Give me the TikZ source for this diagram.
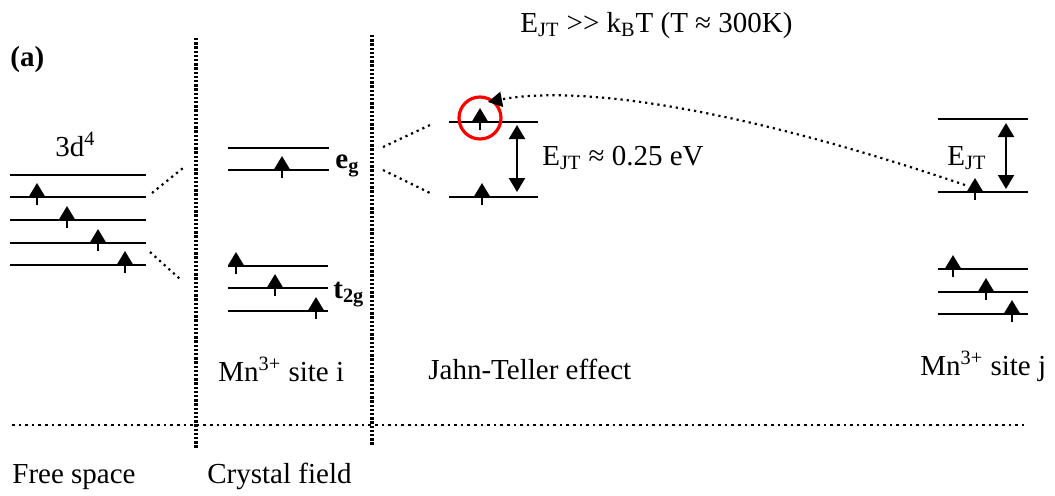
\documentclass[tikz,border=0pt]{standalone}
\usepackage{fontspec}
\setmainfont{Liberation Serif}
\usetikzlibrary{arrows.meta}

\begin{document}
\begin{tikzpicture}[
  x=0.5pt,y=-0.5pt,
  font=\fontsize{14.5}{17}\selectfont,
  lbl/.style={inner sep=0pt,anchor=base west},
  level/.style={line width=1.4pt},
  spin/.style={line width=1.1pt,-{Triangle[width=7.5pt,length=6.5pt]}},
  gap/.style={line width=1.1pt,{Triangle[width=8pt,length=7pt]}-{Triangle[width=8pt,length=7pt]}},
  split/.style={line width=1.1pt,dash pattern=on 1.1pt off 2pt},
  wall/.style={line width=1.7pt,dash pattern=on 1.2pt off 0.9pt},
  hop/.style={line width=1.1pt,dash pattern=on 1.1pt off 2pt,-{Triangle[width=7.5pt,length=7pt]}}
]
\useasboundingbox (0,0) rectangle (1055,495);

% columns and baseline
\draw[wall] (196,38) -- (196,448);
\draw[wall] (372,35) -- (372,445);
\draw[split,line width=1.3pt,dash pattern=on 1.3pt off 2pt] (12,425) -- (1028,425);

% free ion 3d^4
\foreach \y in {175,197,220,243,265}
  \draw[level] (10,\y) -- (146,\y);
\foreach \x/\y in {37/197,67/220,98/243,125/265}
  \draw[spin] (\x,\y+8) -- (\x,\y-14);

% crystal field, site i
\foreach \y in {148,170}
  \draw[level] (228,\y) -- (329,\y);
\foreach \y in {266,288,311}
  \draw[level] (228,\y) -- (328,\y);
\foreach \x/\y in {282/170,236/266,275/288,316/311}
  \draw[spin] (\x,\y+8) -- (\x,\y-14);
\draw[split] (152,193) -- (183,168);
\draw[split] (150,252) -- (180,279);

% Jahn-Teller splitting of e_g
\foreach \y in {122,197}
  \draw[level] (449,\y) -- (538,\y);
\foreach \x/\y in {480/122,482/197}
  \draw[spin] (\x,\y+8) -- (\x,\y-14);
\draw[split] (383,147) -- (430,125);
\draw[split] (383,170) -- (430,193);
\coordinate (jtTop) at (517,125);
\coordinate (jtBot) at (517,192);
\draw[gap] (jtTop) -- (jtBot);
\node[draw=red,line width=1.6pt,circle,minimum size=21pt,inner sep=0pt] (hole) at (480,118) {};

% site j
\foreach \y in {119,192,269,292,314}
  \draw[level] (938,\y) -- (1028,\y);
\foreach \x/\y in {975/192,953/269,986/292,1012/314}
  \draw[spin] (\x,\y+8) -- (\x,\y-14);
\coordinate (jTop) at (1006,123);
\coordinate (jBot) at (1006,189);
\draw[gap] (jTop) -- (jBot);

% hopping j -> i
\coordinate (hopFrom) at (965,185);
\coordinate (hopTo) at (488,102);
\draw[hop] (hopFrom) .. controls (700,95) and (560,88) .. (hopTo);

% labels
\node[lbl,font=\fontsize{14.5}{17}\selectfont\bfseries] (tag) at (10,66) {(a)};
\node[lbl] (freeIon) at (55,156) {3d\textsuperscript{4}};
\node[lbl,font=\fontsize{14.5}{17}\selectfont\bfseries] (eg) at (335,168) {e\textsubscript{g}};
\node[lbl,font=\fontsize{14.5}{17}\selectfont\bfseries] (tg) at (333,298) {t\textsubscript{2g}};
\node[lbl] (siteI) at (218,381) {Mn\textsuperscript{3+} site i};
\node[lbl] (jt) at (428,379) {Jahn-Teller effect};
\node[lbl] (siteJ) at (920,375) {Mn\textsuperscript{3+} site j};
\node[lbl] (free) at (12,483) {Free space};
\node[lbl] (cf) at (207,483) {Crystal field};
\node[lbl] (cond) at (520,32) {E\textsubscript{JT} >{}> k\textsubscript{B}T (T ≈ 300K)};
\node[lbl] (ejt) at (542,165) {E\textsubscript{JT} ≈ 0.25 eV};
\node[lbl] (ejtJ) at (947,165) {E\textsubscript{JT}};
\end{tikzpicture}
\end{document}
